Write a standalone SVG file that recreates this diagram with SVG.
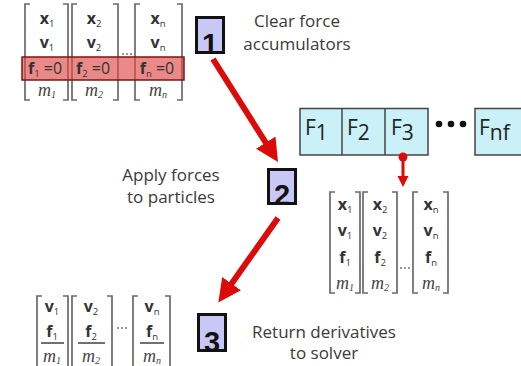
<svg xmlns="http://www.w3.org/2000/svg" width="521" height="366" viewBox="0 0 521 366">
<style>
.br{fill:none;stroke:#6a6a6a;stroke-width:1.7}
.mv{font-family:"Open Sans","DejaVu Sans",sans-serif;font-weight:bold;font-size:16px;fill:#333;text-anchor:middle}
.mn{font-weight:normal}
.sub{font-size:9.5px;font-weight:normal}
.mm{font-family:"Liberation Serif",serif;font-style:italic;font-size:18px;fill:#444;text-anchor:middle}
.msub{font-size:10px}
.lbl{font-family:"Open Sans","DejaVu Sans",sans-serif;font-size:17px;fill:#3a3a3a;text-anchor:middle}
.nb{fill:#c8c8f6;stroke:#111;stroke-width:3}
.num{font-family:"Liberation Sans",Arial,sans-serif;font-weight:bold;font-size:29px;fill:#111;text-anchor:middle}
.fb{fill:#c9f1f7;stroke:#444;stroke-width:1.5}
.ft{font-family:"Open Sans","DejaVu Sans",sans-serif;font-size:21px;fill:#222}
.big{stroke:#dd0a0a;stroke-width:6;fill:none}
.dots{fill:#777}
</style>
<defs>
<marker id="bighead" markerUnits="userSpaceOnUse" markerWidth="24" markerHeight="24" refX="1" refY="11.5" orient="auto" viewBox="0 0 24 24">
<path d="M0,0 L23,11.5 L0,23 z" fill="#dd0a0a"/>
</marker>
<marker id="smallhead" markerUnits="userSpaceOnUse" markerWidth="12" markerHeight="12" refX="1" refY="5.5" orient="auto" viewBox="0 0 12 12">
<path d="M0,0 L11,5.5 L0,11 z" fill="#dd0a0a"/>
</marker>
</defs>

<!-- top-left state matrix -->
<g id="state-cleared">
<path class="br" d="M30,4 H25 V100 H30 M63,4 H68 V100 H63"/>
<path class="br" d="M77,4 H72 V100 H77 M113,4 H118 V100 H113"/>
<path class="br" d="M140,4 H135 V100 H140 M177,4 H182 V100 H177"/>
<circle class="dots" cx="123" cy="54" r="1"/><circle class="dots" cx="127" cy="54" r="1"/><circle class="dots" cx="131" cy="54" r="1"/>
<rect x="22" y="57" width="162" height="23" fill="#e04848" fill-opacity="0.65" stroke="#7a1515" stroke-width="1.5"/>
<text class="mv" x="47" y="24">x<tspan class="sub" dy="3">1</tspan></text>
<text class="mv" x="94" y="24">x<tspan class="sub" dy="3">2</tspan></text>
<text class="mv" x="158" y="24">x<tspan class="sub" dy="3">n</tspan></text>
<text class="mv" x="47" y="48">v<tspan class="sub" dy="3">1</tspan></text>
<text class="mv" x="94" y="48">v<tspan class="sub" dy="3">2</tspan></text>
<text class="mv" x="158" y="48">v<tspan class="sub" dy="3">n</tspan></text>
<text class="mv" x="45" y="74">f<tspan class="sub" dy="3">1</tspan><tspan class="mn" dy="-3"> =0</tspan></text>
<text class="mv" x="93" y="74">f<tspan class="sub" dy="3">2</tspan><tspan class="mn" dy="-3"> =0</tspan></text>
<text class="mv" x="157" y="74">f<tspan class="sub" dy="3">n</tspan><tspan class="mn" dy="-3"> =0</tspan></text>
<text class="mm" x="47" y="96">m<tspan class="msub" dy="2">1</tspan></text>
<text class="mm" x="94" y="96">m<tspan class="msub" dy="2">2</tspan></text>
<text class="mm" x="158" y="96">m<tspan class="msub" dy="2">n</tspan></text>
</g>

<g id="step1">
<rect class="nb" x="196.5" y="17.5" width="27" height="35"/>
<text class="num" x="210" y="54">1</text>
</g>
<g id="label1">
<text class="lbl" x="297" y="27">Clear force</text>
<text class="lbl" x="297" y="50">accumulators</text>
</g>

<g id="forces">
<rect class="fb" x="300" y="108.5" width="128" height="46.5"/>
<line x1="342" y1="108.5" x2="342" y2="155" stroke="#444" stroke-width="1.5"/>
<line x1="385" y1="108.5" x2="385" y2="155" stroke="#444" stroke-width="1.5"/>
<rect class="fb" x="475" y="108.5" width="60" height="46.5"/>
<text class="ft" x="305" y="135">F<tspan dy="5">1</tspan></text>
<text class="ft" x="347" y="135">F<tspan dy="5">2</tspan></text>
<text class="ft" x="391" y="135">F<tspan dy="5">3</tspan></text>
<text class="ft" x="479" y="135">F<tspan dy="5">nf</tspan></text>
<circle cx="439" cy="124" r="3.3" fill="#111"/>
<circle cx="451" cy="124" r="3.3" fill="#111"/>
<circle cx="463" cy="124" r="3.3" fill="#111"/>
</g>

<g id="step2">
<rect class="nb" x="268.5" y="169.5" width="27" height="34"/>
<text class="num" x="282" y="205">2</text>
</g>
<g id="label2">
<text class="lbl" x="171" y="181">Apply forces</text>
<text class="lbl" x="171" y="203">to particles</text>
</g>

<!-- bottom-right state matrix -->
<g id="state-forces">
<path class="br" d="M335,192 H330 V293 H335 M355,192 H360 V293 H355"/>
<path class="br" d="M368,192 H363 V293 H368 M392,192 H397 V293 H392"/>
<path class="br" d="M418,192 H413 V293 H418 M443,192 H448 V293 H443"/>
<circle class="dots" cx="401" cy="268" r="1"/><circle class="dots" cx="405" cy="268" r="1"/><circle class="dots" cx="409" cy="268" r="1"/>
<text class="mv" x="345" y="210">x<tspan class="sub" dy="3">1</tspan></text>
<text class="mv" x="380" y="210">x<tspan class="sub" dy="3">2</tspan></text>
<text class="mv" x="431" y="210">x<tspan class="sub" dy="3">n</tspan></text>
<text class="mv" x="345" y="236">v<tspan class="sub" dy="3">1</tspan></text>
<text class="mv" x="380" y="236">v<tspan class="sub" dy="3">2</tspan></text>
<text class="mv" x="431" y="236">v<tspan class="sub" dy="3">n</tspan></text>
<text class="mv" x="345" y="263">f<tspan class="sub" dy="3">1</tspan></text>
<text class="mv" x="380" y="263">f<tspan class="sub" dy="3">2</tspan></text>
<text class="mv" x="431" y="263">f<tspan class="sub" dy="3">n</tspan></text>
<text class="mm" x="345" y="289">m<tspan class="msub" dy="2">1</tspan></text>
<text class="mm" x="380" y="289">m<tspan class="msub" dy="2">2</tspan></text>
<text class="mm" x="431" y="289">m<tspan class="msub" dy="2">n</tspan></text>
</g>

<!-- bottom-left derivative matrix -->
<g id="derivatives">
<path class="br" d="M42,296 H37 V380 M63,296 H68 V380"/>
<path class="br" d="M77,296 H72 V380 M107,296 H112 V380"/>
<path class="br" d="M138,296 H133 V380 M165,296 H170 V380"/>
<circle class="dots" cx="118" cy="328" r="1"/><circle class="dots" cx="122" cy="328" r="1"/><circle class="dots" cx="126" cy="328" r="1"/>
<text class="mv" x="52" y="312">v<tspan class="sub" dy="3">1</tspan></text>
<text class="mv" x="91" y="312">v<tspan class="sub" dy="3">2</tspan></text>
<text class="mv" x="152" y="312">v<tspan class="sub" dy="3">n</tspan></text>
<text class="mv" x="52" y="337">f<tspan class="sub" dy="3">1</tspan></text>
<text class="mv" x="91" y="337">f<tspan class="sub" dy="3">2</tspan></text>
<text class="mv" x="152" y="337">f<tspan class="sub" dy="3">n</tspan></text>
<line x1="41" y1="343" x2="64" y2="343" stroke="#333" stroke-width="1.4"/>
<line x1="78" y1="343" x2="105" y2="343" stroke="#333" stroke-width="1.4"/>
<line x1="140" y1="343" x2="164" y2="343" stroke="#333" stroke-width="1.4"/>
<text class="mm" x="52" y="362">m<tspan class="msub" dy="2">1</tspan></text>
<text class="mm" x="91" y="362">m<tspan class="msub" dy="2">2</tspan></text>
<text class="mm" x="152" y="362">m<tspan class="msub" dy="2">n</tspan></text>
</g>

<g id="step3">
<rect class="nb" x="198.5" y="314.5" width="27" height="36"/>
<text class="num" x="212" y="352">3</text>
</g>
<g id="label3">
<text class="lbl" x="324" y="338">Return derivatives</text>
<text class="lbl" x="324" y="359">to solver</text>
</g>

<g id="connectors">
<line class="big" x1="213" y1="59" x2="266.3" y2="143.5" marker-end="url(#bighead)"/>
<line class="big" x1="278" y1="218" x2="231" y2="284.5" marker-end="url(#bighead)"/>
<circle cx="403" cy="157" r="4.5" fill="#dd0a0a"/>
<line x1="403" y1="157" x2="403" y2="177" stroke="#dd0a0a" stroke-width="3" marker-end="url(#smallhead)"/>
</g>
</svg>
